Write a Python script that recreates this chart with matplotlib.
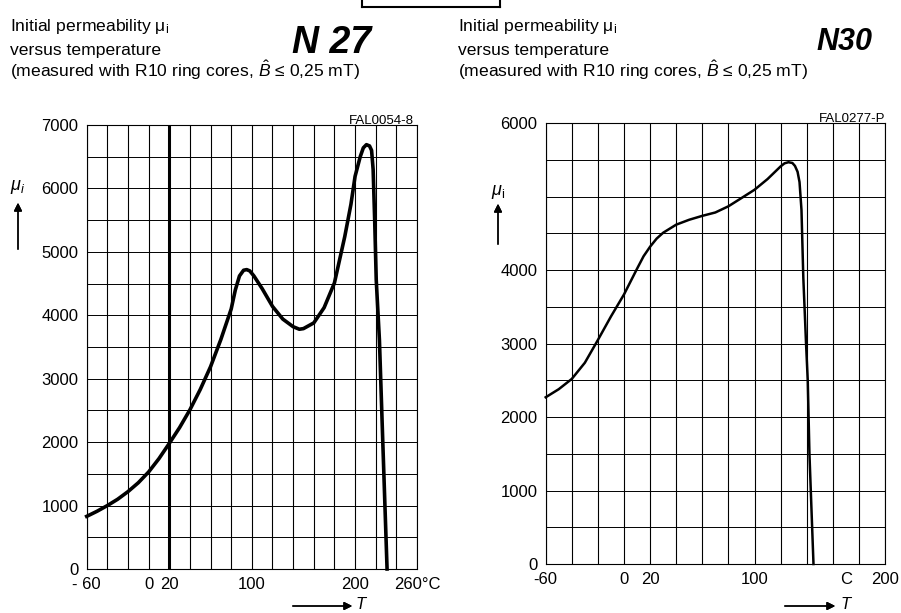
import matplotlib.pyplot as plt
from matplotlib.lines import Line2D

plt.rcParams['font.family'] = ['Liberation Sans', 'DejaVu Sans']
plt.rcParams['mathtext.fontset'] = 'custom'
plt.rcParams['mathtext.rm'] = 'Liberation Sans'
plt.rcParams['mathtext.it'] = 'Liberation Sans:italic'

# N27 curve (temperature in degC, initial permeability)
n27_temp = [-60, -50, -40, -30, -20, -10, 0, 10, 20, 30, 40, 50, 60, 70, 80, 84,
            88, 92, 95, 98, 102, 110, 120, 130, 140, 146, 150, 160, 170, 180, 190,
            196, 200, 205, 208, 211, 214, 216, 217.5, 219, 220.5, 223.6, 226.8, 231]
n27_mu = [830, 910, 1000, 1100, 1220, 1360, 1530, 1740, 1980, 2230, 2510, 2830, 3190,
          3620, 4100, 4400, 4620, 4710, 4720, 4700, 4620, 4420, 4140, 3940, 3820, 3780,
          3790, 3880, 4120, 4510, 5240, 5750, 6190, 6500, 6640, 6690, 6670, 6600,
          6300, 5500, 4560, 3610, 2030, 0]

# N30 curve
n30_temp = [-60, -50, -40, -30, -20, -10, 0, 10, 15, 20, 25, 30, 40, 50, 60, 70, 80, 90,
            100, 110, 120, 123, 126, 129, 131, 133, 134.5, 136, 137.4, 139.5, 140.8,
            142.1, 145.2]
n30_mu = [2270, 2380, 2520, 2740, 3050, 3370, 3670, 4020, 4190, 4320, 4430, 4510, 4620,
          4687, 4740, 4786, 4870, 4982, 5095, 5241, 5413, 5455, 5470, 5460, 5420, 5340,
          5200, 4820, 3900, 3000, 2500, 1500, 0]

n27_xticks = [-60, 0, 20, 100, 200, 260]
n27_xlabels = ['- 60', '0', '20', '100', '200', '260°C']
n27_yticks = [0, 1000, 2000, 3000, 4000, 5000, 6000, 7000]

n30_xticks = [-60, 0, 20, 100, 170, 200]
n30_xlabels = ['-60', '0', '20', '100', 'C', '200']
n30_yticks = [0, 1000, 2000, 3000, 4000, 6000]

W, H = 901, 613
fig = plt.figure(figsize=(W / 100, H / 100), dpi=100)


def px(x, y):
    # pixel position (from top-left) to figure fraction
    return x / W, 1 - y / H


def setup_axes(ax, xmin, xmax, ymax, xticks, xlabels, yticks, bold_x=None):
    ax.set_xlim(xmin, xmax)
    ax.set_ylim(0, ymax)
    for t in range(xmin, xmax + 1, 20):
        lw = 2.2 if t == bold_x else 0.8
        ax.axvline(t, color='black', lw=lw, zorder=1)
    for v in range(0, ymax + 1, 500):
        ax.axhline(v, color='black', lw=0.7, zorder=1)
    ax.set_xticks(xticks)
    ax.set_xticklabels(xlabels)
    ax.set_yticks(yticks)
    ax.tick_params(length=0, labelsize=12, pad=6)
    for s in ax.spines.values():
        s.set_linewidth(0.8)


# left chart: N27
ax1 = fig.add_axes([86.7 / W, 1 - 569 / H, (417 - 86.7) / W, (569 - 125) / H])
setup_axes(ax1, -60, 260, 7000, n27_xticks, n27_xlabels, n27_yticks, bold_x=20)
ax1.plot(n27_temp, n27_mu, color='black', lw=2.6, zorder=3, clip_on=False)

# right chart: N30
ax2 = fig.add_axes([545.7 / W, 1 - 564 / H, (885 - 545.7) / W, (564 - 123.3) / H])
setup_axes(ax2, -60, 200, 6000, n30_xticks, n30_xlabels, n30_yticks)
ax2.plot(n30_temp, n30_mu, color='black', lw=1.8, zorder=3, clip_on=False)

# titles
title_lines = [r'Initial permeability $\mathrm{μ}_\mathrm{i}$', 'versus temperature',
               r'(measured with R10 ring cores, $\hat{B}$ ≤ 0,25 mT)']
for x0 in (10, 458):
    for line, yb in zip(title_lines, (31, 55, 77)):
        fig.text(*px(x0, yb), line, fontsize=12.6, va='baseline', ha='left')

fig.text(*px(292, 53), 'N 27', fontsize=27, fontweight='bold', style='italic',
         va='baseline', ha='left')
fig.text(*px(816, 50), 'N30', fontsize=22, fontweight='bold', style='italic',
         va='baseline', ha='left')

fig.text(*px(414, 124), 'FAL0054-8', fontsize=9.5, ha='right', va='baseline')
fig.text(*px(885, 122), 'FAL0277-P', fontsize=9.5, ha='right', va='baseline')

# y axis labels with upward arrows
fig.text(*px(18, 190), r'$\mu_i$', fontsize=13, ha='center', va='baseline')
fig.text(*px(498, 195), r'$\mu_\mathrm{i}$', fontsize=13, ha='center', va='baseline')
for x, y0, y1 in ((18, 252, 200), (498, 247, 201)):
    fig.add_artist(plt.annotate('', xy=(x, H - y1), xytext=(x, H - y0),
                                xycoords='figure pixels', textcoords='figure pixels',
                                arrowprops=dict(arrowstyle='-|>', lw=1, color='black',
                                                mutation_scale=12)))

# x axis labels with arrows
for x0, x1, xt in ((290, 355, 362), (782, 838, 847)):
    fig.add_artist(plt.annotate('', xy=(x1, H - 606), xytext=(x0, H - 606),
                                xycoords='figure pixels', textcoords='figure pixels',
                                arrowprops=dict(arrowstyle='-|>', lw=1, color='black',
                                                mutation_scale=12)))
    fig.text(*px(xt, 604), r'$T$', fontsize=12, ha='center', va='center')

# box edge at top
for xs, ys in (([362, 500], [7, 7]), ([362, 362], [0, 7]), ([500, 500], [0, 7])):
    fig.add_artist(Line2D([x / W for x in xs], [1 - y / H for y in ys],
                          color='black', lw=1.5, transform=fig.transFigure))

fig.savefig('out.png', dpi=100)
